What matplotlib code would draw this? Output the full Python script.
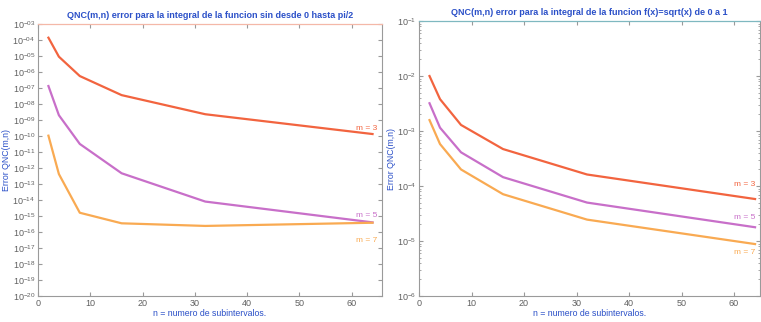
import matplotlib
matplotlib.use('Agg')
import matplotlib.pyplot as plt
from matplotlib.ticker import FixedLocator, FixedFormatter, LogLocator, NullFormatter
import numpy as np

plt.rcParams['font.family'] = ['Liberation Sans', 'DejaVu Sans']
plt.rcParams['mathtext.fontset'] = 'custom'
plt.rcParams['mathtext.rm'] = 'Liberation Sans'
plt.rcParams['mathtext.it'] = 'Liberation Sans:italic'
plt.rcParams['mathtext.bf'] = 'Liberation Sans:bold'

# subintervals
n_vals = [2, 4, 8, 16, 32, 64]

# errors, sin(x) on [0, pi/2]
sin_m3 = [1.4e-4, 9.1e-6, 5.6e-7, 3.6e-8, 2.3e-9, 1.33e-10]
sin_m5 = [1.33e-7, 2.0e-9, 3.2e-11, 4.7e-13, 8.0e-15, 4.0e-16]
sin_m7 = [1.05e-10, 4.2e-13, 1.6e-15, 3.5e-16, 2.4e-16, 3.8e-16]

# errors, sqrt(x) on [0, 1]
sqrt_m3 = [1.0e-2, 3.8e-3, 1.29e-3, 4.7e-4, 1.62e-4, 5.8e-5]
sqrt_m5 = [3.2e-3, 1.15e-3, 4.1e-4, 1.45e-4, 5.0e-5, 1.78e-5]
sqrt_m7 = [1.58e-3, 5.8e-4, 2.0e-4, 7.1e-5, 2.45e-5, 8.8e-6]

labels = ['m = 3', 'm = 5', 'm = 7']
colors = ['#F2643F', '#C86FC9', '#F9AA52']

title_col = '#2B50C8'
tick_col = '#606060'

fig = plt.figure(figsize=(7.61, 3.22), dpi=100, facecolor='white')
ax1 = fig.add_axes([0.0499, 0.0807, 0.452, 0.8447])
ax2 = fig.add_axes([0.5506, 0.0807, 0.4485, 0.8540])


def style_axes(ax, top_col):
    for side in ['left', 'bottom', 'right']:
        ax.spines[side].set_color('#9a9a9a')
        ax.spines[side].set_linewidth(0.8)
    ax.spines['top'].set_color(top_col)
    ax.spines['top'].set_linewidth(0.9)
    ax.tick_params(axis='both', which='both', colors='#9a9a9a', labelcolor=tick_col,
                   labelsize=6.5, direction='in', top=True, right=True)
    ax.tick_params(axis='both', which='major', length=3, pad=2)
    ax.tick_params(axis='both', which='minor', length=1.5)
    ax.set_xticks([0, 10, 20, 30, 40, 50, 60])
    ax.set_xlabel('n = numero de subintervalos.', color=title_col, fontsize=6.3, labelpad=1)
    ax.set_ylabel('Error QNC(m,n)', color=title_col, fontsize=6.3, labelpad=1)


# left: sin
for ys, c in zip([sin_m3, sin_m5, sin_m7], colors):
    ax1.semilogy(n_vals, ys, color=c, lw=1.6)
ax1.set_xlim(0, 65.8)
ax1.set_ylim(1e-20, 1e-3)
exps = list(range(-20, -2))
ax1.yaxis.set_major_locator(FixedLocator([10.0 ** e for e in exps]))
ax1.yaxis.set_major_formatter(FixedFormatter(['$10^{-%02d}$' % (-e) for e in exps]))
ax1.yaxis.set_minor_locator(FixedLocator([]))
style_axes(ax1, '#F4B8A8')
ax1.set_title('QNC(m,n) error para la integral de la funcion sin desde 0 hasta pi/2',
              color=title_col, fontsize=6.5, fontweight='bold', pad=4)
ax1.text(62.8, 10 ** -9.55, labels[0], color=colors[0], fontsize=6, ha='center', va='center')
ax1.text(62.8, 10 ** -14.95, labels[1], color=colors[1], fontsize=6, ha='center', va='center')
ax1.text(62.8, 10 ** -16.5, labels[2], color=colors[2], fontsize=6, ha='center', va='center')

# right: sqrt
for ys, c in zip([sqrt_m3, sqrt_m5, sqrt_m7], colors):
    ax2.semilogy(n_vals, ys, color=c, lw=1.6)
ax2.set_xlim(0, 65.0)
ax2.set_ylim(1e-6, 1e-1)
ax2.yaxis.set_major_locator(FixedLocator([10.0 ** e for e in range(-6, 0)]))
ax2.yaxis.set_major_formatter(FixedFormatter(['$10^{%d}$' % e for e in range(-6, 0)]))
ax2.yaxis.set_minor_locator(LogLocator(base=10, subs=np.arange(2, 10)))
ax2.yaxis.set_minor_formatter(NullFormatter())
style_axes(ax2, '#7FB8C0')
ax2.set_title('QNC(m,n) error para la integral de la funcion f(x)=sqrt(x) de 0 a 1',
              color=title_col, fontsize=6.5, fontweight='bold', pad=4)
ax2.text(62.0, 10 ** -3.98, labels[0], color=colors[0], fontsize=6, ha='center', va='center')
ax2.text(62.0, 10 ** -4.58, labels[1], color=colors[1], fontsize=6, ha='center', va='center')
ax2.text(62.0, 10 ** -5.2, labels[2], color=colors[2], fontsize=6, ha='center', va='center')

fig.savefig('out.png', dpi=100, facecolor='white')
